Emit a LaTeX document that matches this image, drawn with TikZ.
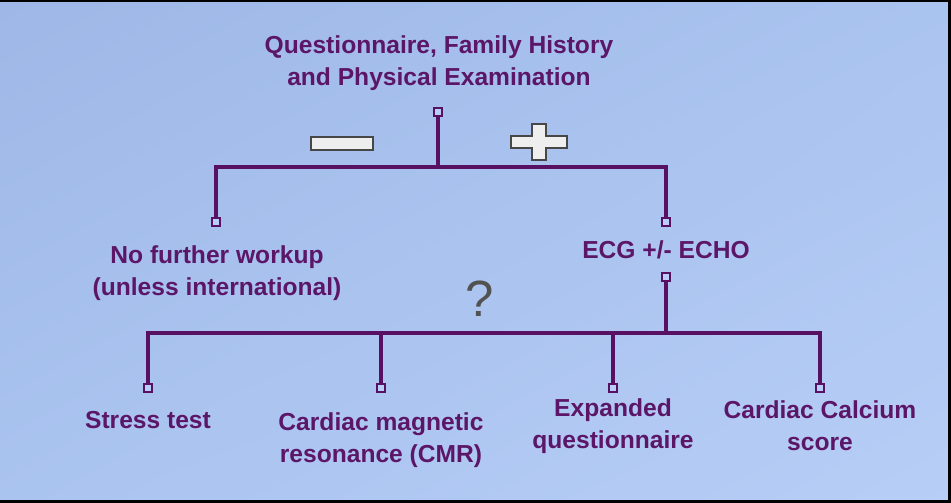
\documentclass[tikz,border=0pt]{standalone}
\usepackage{fontspec}
\setmainfont{Liberation Sans}
\usetikzlibrary{shadings}
\definecolor{bgA}{RGB}{158,183,230}
\definecolor{bgB}{RGB}{170,196,240}
\definecolor{bgC}{RGB}{183,206,246}
\definecolor{lbl}{RGB}{92,22,104}
\definecolor{conncol}{RGB}{88,16,98}
\definecolor{signfill}{RGB}{238,238,238}
\tikzset{
	lbltext/.style = {text=lbl, align=center, font=\fontsize{14}{18.2}\selectfont\bfseries},
	conn/.style = {conncol, line width=2pt},
	tick/.style = {draw=conncol, fill=bgC, line width=1.3pt, minimum size=0.16cm, inner sep=0pt},
	signbox/.style = {draw=black!72, fill=signfill, line width=1.5pt}
}
\begin{document}
\begin{tikzpicture}[x=0.02cm, y=-0.02cm]

	% background and frame
	\shade[upper left=bgA, upper right=bgB, lower left=bgB, lower right=bgC] (0,0) rectangle (951,503);
	\useasboundingbox (0,0) rectangle (951,503);
	\draw[black, line width=1.2pt] (0,0.5) -- (951,0.5);
	\draw[black, line width=2pt] (949.5,0) -- (949.5,503);
	\draw[black, line width=2pt] (0,501.5) -- (951,501.5);

	% first level
	\node[lbltext] (exam) at (439,63) {Questionnaire, Family History\\and Physical Examination};
	\node[tick] (t0) at (438,112) {};
	\coordinate (j0) at (438,167);
	\node[tick] (tneg) at (216,222) {};
	\node[tick] (tpos) at (666,222) {};
	\draw[conn] (t0) -- (j0);
	\draw[conn] (tneg) |- (j0) -| (tpos);

	% signs
	\draw[signbox] (311,137) rectangle (373,150);
	\draw[signbox] (511,136) -- (532,136) -- (532,124) -- (546,124) -- (546,136) -- (567,136)
		-- (567,148) -- (546,148) -- (546,160) -- (532,160) -- (532,148) -- (511,148) -- cycle;

	\node[lbltext] (nofurther) at (217,273) {No further workup\\(unless international)};
	\node[lbltext] (ecg) at (666,250) {ECG +/- ECHO};

	% second level
	\node[tick] (t1) at (666,277) {};
	\coordinate (j1) at (666,333);
	\node[tick] (tstress) at (148,388) {};
	\node[tick] (tcmr) at (381,388) {};
	\node[tick] (texp) at (613,388) {};
	\node[tick] (tcac) at (820,388) {};
	\draw[conn] (t1) -- (j1);
	\draw[conn] (tstress) |- (j1) -| (tcac);
	\draw[conn] (tcmr) -- (tcmr |- j1);
	\draw[conn] (texp) -- (texp |- j1);

	\node[text=black!68, font=\fontsize{29}{30}\selectfont] (quest) at (480,299) {?};

	\node[lbltext] (stress) at (148,420) {Stress test};
	\node[lbltext] (cmr) at (381,440) {Cardiac magnetic\\resonance (CMR)};
	\node[lbltext] (expanded) at (613,426) {Expanded\\questionnaire};
	\node[lbltext] (cac) at (820,426) {Cardiac Calcium\\score};

\end{tikzpicture}
\end{document}
